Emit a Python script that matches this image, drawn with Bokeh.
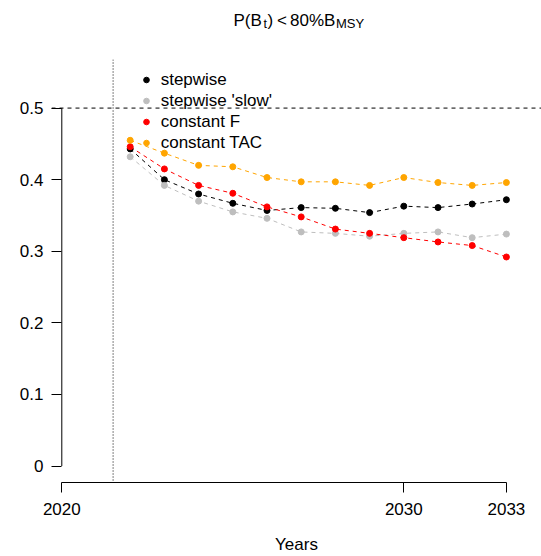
from bokeh.plotting import figure
from bokeh.layouts import column
from bokeh.models import (Range1d, Span, Legend, LegendItem, FixedTicker,
                          LinearAxis, NumeralTickFormatter)
from bokeh.core.properties import value
from bokeh.embed import file_html
from bokeh.resources import INLINE

# ---- data ----
years = [2022, 2023, 2024, 2025, 2026, 2027, 2028, 2029, 2030, 2031, 2032, 2033]
stepwise = [0.443, 0.400, 0.380, 0.367, 0.357, 0.361, 0.360, 0.354, 0.363, 0.361, 0.366, 0.372]
stepwise_slow = [0.432, 0.392, 0.370, 0.355, 0.346, 0.327, 0.325, 0.321, 0.325, 0.327, 0.319, 0.324]
constant_f = [0.446, 0.415, 0.392, 0.381, 0.362, 0.348, 0.331, 0.325, 0.319, 0.313, 0.308, 0.292]
constant_tac = [0.455, 0.437, 0.420, 0.418, 0.403, 0.397, 0.397, 0.392, 0.403, 0.396, 0.392, 0.396]
series_names = ["stepwise", "stepwise 'slow'", "constant F", "constant TAC"]
series_values = [stepwise, stepwise_slow, constant_f, constant_tac]
series_colors = ["black", "#BEBEBE", "red", "orange"]
x_ticks = [2020, 2030, 2033]
y_ticks = [0, 0.1, 0.2, 0.3, 0.4, 0.5]
threshold = 0.5
start_line = 2021.5
x_label = "Years"
# title "P(B_t) < 80%B_MSY" split into normal / subscript pieces
title_pieces = ["P(B", "t", ")", "<", "80%B", "MSY"]

FONT = "Liberation Sans"

# ---- layout (pixels) ----
W, H = 541, 556
TH = 59                      # title strip height
L, R, B = 51, 541, 483       # frame px (page coords)
X0PX, XSC = 61.3, 34.2       # px of 2020, px per year
Y0PX, YSC = 466.5, 717.6     # px of 0, px per unit


def xd(px):
    return x_ticks[0] + (px - X0PX) / XSC


def yd(py):
    return (Y0PX - py) / YSC


# ---- title strip (frame aligned with the main frame, coordinates = page px) ----
tf = figure(width=W, height=TH, x_range=Range1d(L, R), y_range=Range1d(TH, 0),
            title=None, output_backend="svg", toolbar_location=None,
            x_axis_type=None, y_axis_type=None,
            min_border_left=L, min_border_right=W - R, min_border_top=0, min_border_bottom=0)
tf.outline_line_color = None
tf.xgrid.visible = False
tf.ygrid.visible = False
piece_pos = [(233.0, 19.7, "17px"), (263.0, 23.0, "12.5px"), (267.0, 19.7, "17px"),
             (276.5, 19.7, "17px"), (289.5, 19.7, "17px"), (335.5, 23.0, "13px")]
for txt, (px, py, fs) in zip(title_pieces, piece_pos):
    tf.text(x=[px], y=[py], text=[txt], text_font=value(FONT), text_font_size=value(fs),
            text_color="black", text_align="left", text_baseline="alphabetic")

# ---- main plot ----
p = figure(width=W, height=H - TH,
           x_range=Range1d(xd(L), xd(R)), y_range=Range1d(yd(B), yd(TH)),
           title=None, output_backend="svg", toolbar_location=None,
           x_axis_type=None, y_axis_type=None,
           min_border_left=L, min_border_right=W - R,
           min_border_top=0, min_border_bottom=H - B)
p.outline_line_color = None
p.background_fill_color = "white"
p.border_fill_color = "white"

# x axis
xaxis = LinearAxis(ticker=FixedTicker(ticks=x_ticks), bounds=(x_ticks[0], x_ticks[-1]),
                   formatter=NumeralTickFormatter(format="0"))
xaxis.axis_line_color = "black"
xaxis.major_tick_line_color = "black"
xaxis.major_tick_out = 10
xaxis.major_tick_in = 0
xaxis.minor_tick_line_color = None
xaxis.major_label_text_font = FONT
xaxis.major_label_text_font_size = "17px"
xaxis.major_label_text_color = "black"
xaxis.major_label_standoff = 10
xaxis.axis_label = x_label
xaxis.axis_label_text_font = FONT
xaxis.axis_label_text_font_size = "17px"
xaxis.axis_label_text_font_style = "normal"
xaxis.axis_label_text_color = "black"
xaxis.axis_label_standoff = 17
p.add_layout(xaxis, "below")

# y axis (ticks only; vertical line drawn at first x tick)
yaxis = LinearAxis(ticker=FixedTicker(ticks=y_ticks), formatter=NumeralTickFormatter(format="0.[0]"))
yaxis.axis_line_color = None
yaxis.major_tick_line_color = "black"
yaxis.major_tick_in = 10
yaxis.major_tick_out = 0
yaxis.minor_tick_line_color = None
yaxis.major_label_text_font = FONT
yaxis.major_label_text_font_size = "17px"
yaxis.major_label_text_color = "black"
yaxis.major_label_standoff = 8
p.add_layout(yaxis, "left")
p.segment(x0=[x_ticks[0]], y0=[y_ticks[0]], x1=[x_ticks[0]], y1=[y_ticks[-1]],
          line_color="black", line_width=1)

# reference lines
p.add_layout(Span(location=threshold, dimension="width", line_color="black",
                  line_width=1, line_dash="4 4"))
p.add_layout(Span(location=start_line, dimension="height", line_color="black",
                  line_width=1, line_dash="1 2"))

# series
legend_items = []
nan = float("nan")
for name, vals, col in zip(series_names, series_values, series_colors):
    p.line(years, vals, line_color=col, line_width=1, line_dash="4 4")
    p.scatter(years, vals, size=6, fill_color=col, line_color=col)
    lr = p.scatter(x=[nan], y=[nan], size=5, fill_color=col, line_color=col)
    legend_items.append(LegendItem(label=name, renderers=[lr]))

legend = Legend(items=legend_items, location=(87.7, 329),
                padding=0, margin=0, spacing=0,
                glyph_width=14, glyph_height=21, label_height=21, label_standoff=8,
                label_text_font=FONT, label_text_font_size="17px", label_text_color="black",
                border_line_color=None, background_fill_alpha=0)
p.add_layout(legend)

layout = column(tf, p, spacing=0)
open("out.html", "w").write(file_html(layout, INLINE))
